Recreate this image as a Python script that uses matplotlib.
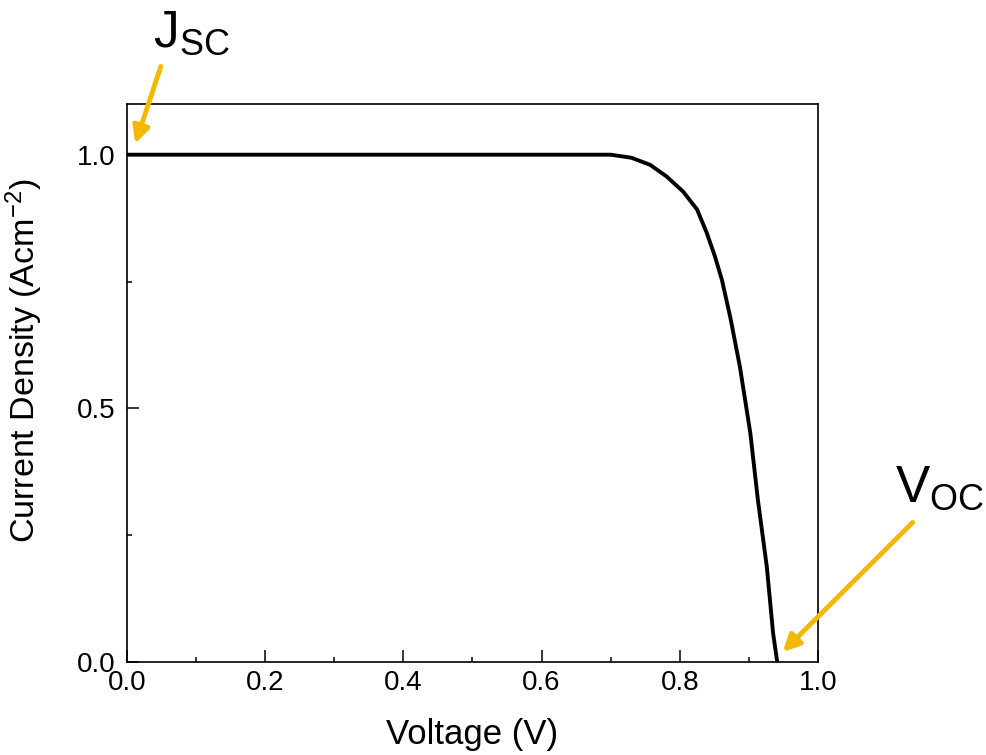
import matplotlib.pyplot as plt
from matplotlib.ticker import MultipleLocator

plt.rcParams['font.family'] = ['Liberation Sans', 'DejaVu Sans']
plt.rcParams['mathtext.fontset'] = 'custom'
plt.rcParams['mathtext.rm'] = 'Liberation Sans'
plt.rcParams['mathtext.default'] = 'regular'

# J-V curve
voltage = [0.0, 0.2, 0.4, 0.6, 0.68, 0.70, 0.73, 0.757, 0.781, 0.805, 0.825,
           0.839, 0.851, 0.861, 0.873, 0.887, 0.902, 0.913, 0.926, 0.935, 0.941]
current = [1.0, 1.0, 1.0, 1.0, 1.0, 1.0, 0.994, 0.980, 0.957, 0.927, 0.892,
           0.846, 0.799, 0.753, 0.680, 0.582, 0.452, 0.320, 0.187, 0.057, 0.0]

arrow_color = '#F5B800'

fig = plt.figure(figsize=(9.86, 7.55), dpi=100)
ax = fig.add_axes([0.1288, 0.1232, 0.7008, 0.7391])

ax.plot(voltage, current, color='black', lw=2.8, solid_joinstyle='round')

ax.set_xlim(0, 1.0)
ax.set_ylim(0, 1.1)
ax.xaxis.set_major_locator(MultipleLocator(0.2))
ax.xaxis.set_minor_locator(MultipleLocator(0.1))
ax.yaxis.set_major_locator(MultipleLocator(0.5))
ax.yaxis.set_minor_locator(MultipleLocator(0.25))
ax.tick_params(which='both', direction='in', width=1.1, labelsize=20)
ax.tick_params(which='major', length=8.5, pad=6)
ax.tick_params(which='minor', length=3.8)
ax.tick_params(axis='y', which='major', pad=8)
for s in ax.spines.values():
    s.set_linewidth(1.2)

ax.set_xlabel('Voltage (V)', fontsize=25)
ax.set_ylabel('Current Density (Acm$^{-2}$)', fontsize=24.5)
ax.xaxis.set_label_coords(0.5, -0.100)
ax.yaxis.set_label_coords(-0.118, 0.54)

# Jsc / Voc markers
ax.annotate('', xy=(0.012, 1.022), xytext=(0.049, 1.174),
            arrowprops=dict(arrowstyle='-|>', color=arrow_color, lw=3.5,
                            mutation_scale=25, shrinkA=0, shrinkB=0),
            annotation_clip=False)
ax.annotate('', xy=(0.949, 0.02), xytext=(1.137, 0.275),
            arrowprops=dict(arrowstyle='-|>', color=arrow_color, lw=3.5,
                            mutation_scale=25, shrinkA=0, shrinkB=0),
            annotation_clip=False)

fig.text(153 / 986, 1 - 47 / 755, '$J_{SC}$', fontsize=37, ha='left', va='baseline')
fig.text(895 / 986, 1 - 502 / 755, '$V_{OC}$', fontsize=37, ha='left', va='baseline')

fig.savefig('out.png', dpi=100)
